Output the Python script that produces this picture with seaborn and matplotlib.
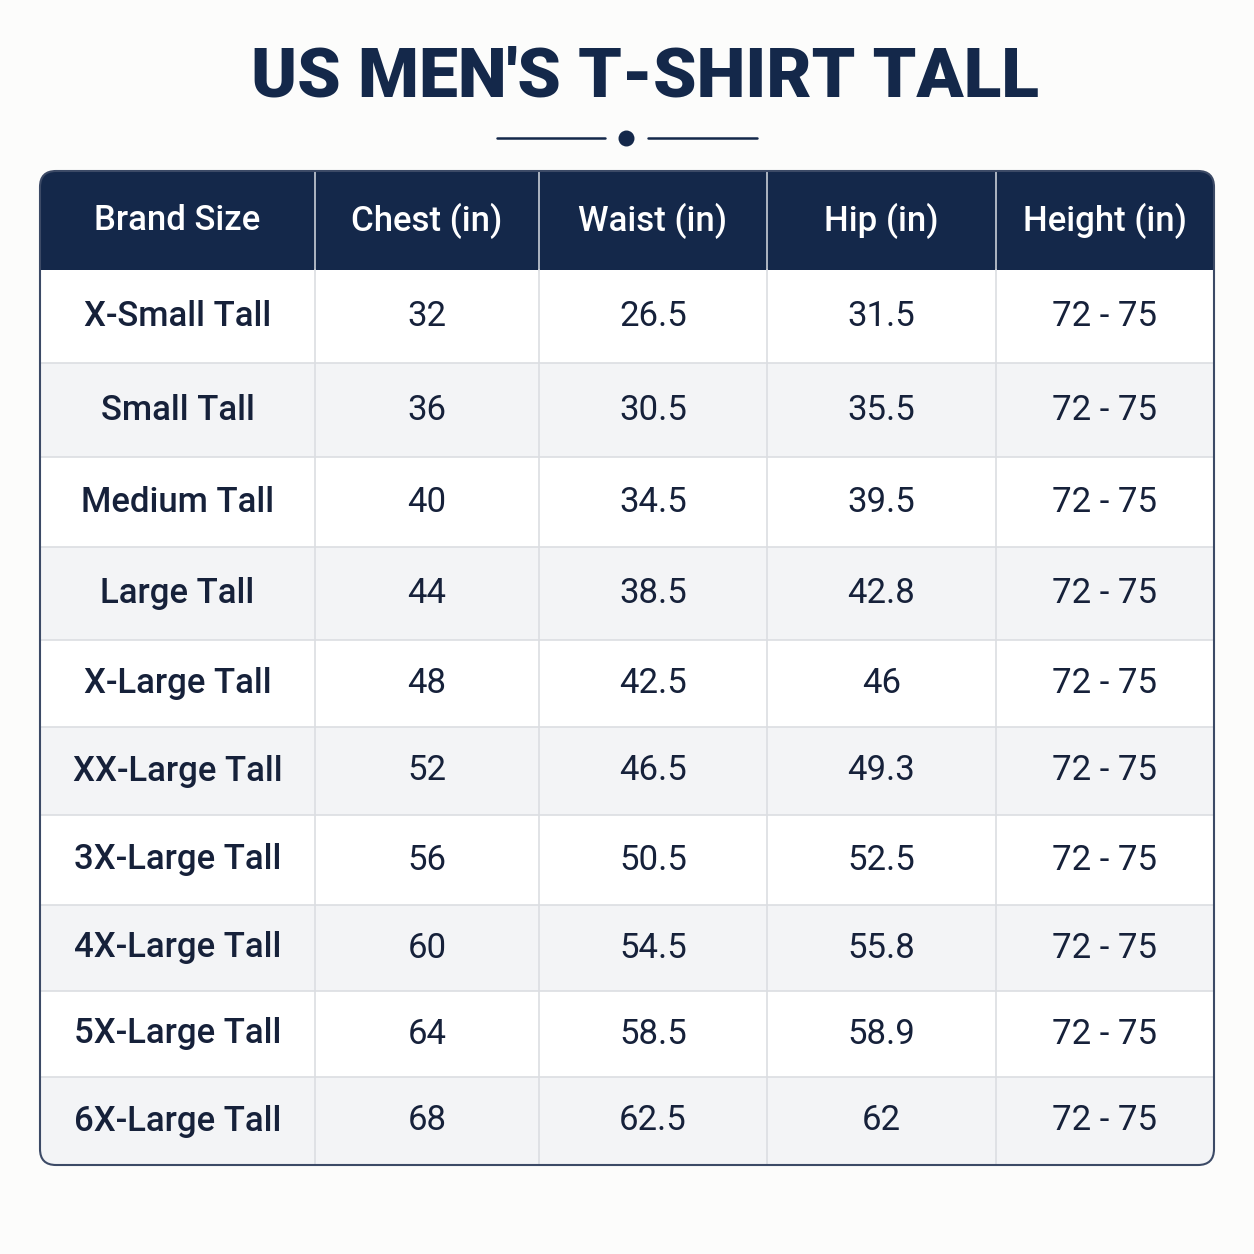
import matplotlib
matplotlib.use("Agg")
import matplotlib.pyplot as plt
from matplotlib.patches import FancyBboxPatch, Rectangle
import seaborn as sns

sns.set_theme(style="white")
plt.rcParams['font.family'] = ['Roboto', 'DejaVu Sans']

title = "US MEN'S T-SHIRT TALL"
columns = ["Brand Size", "Chest (in)", "Waist (in)", "Hip (in)", "Height (in)"]
sizes = ["X-Small Tall", "Small Tall", "Medium Tall", "Large Tall", "X-Large Tall",
         "XX-Large Tall", "3X-Large Tall", "4X-Large Tall", "5X-Large Tall", "6X-Large Tall"]
chest = ["32", "36", "40", "44", "48", "52", "56", "60", "64", "68"]
waist = ["26.5", "30.5", "34.5", "38.5", "42.5", "46.5", "50.5", "54.5", "58.5", "62.5"]
hip = ["31.5", "35.5", "39.5", "42.8", "46", "49.3", "52.5", "55.8", "58.9", "62"]
height = ["72 - 75"] * 10

navy = "#14284a"
col_edges = [40, 315, 539, 767, 996, 1214]
row_edges = [270, 363, 457, 547, 640, 727, 815, 905, 991, 1077, 1165]
top = 171

fig = plt.figure(figsize=(12.54, 12.54), dpi=100, facecolor="#fcfcfb")
ax = fig.add_axes([0, 0, 1, 1])
ax.set_xlim(0, 1254)
ax.set_ylim(1254, 0)
ax.axis("off")

ax.text(645, 78, title, ha="center", va="center", fontsize=50, fontweight="black",
        color=navy)
ax.plot([497, 605], [138, 138], color=navy, lw=1.8)
ax.plot([648, 757], [138, 138], color=navy, lw=1.8)
ax.scatter([626], [138], s=110, color=navy, zorder=3)

clip = FancyBboxPatch((col_edges[0], top), col_edges[-1] - col_edges[0],
                      row_edges[-1] - top, boxstyle="round,pad=0,rounding_size=16",
                      facecolor="none", edgecolor="#3c4a66", lw=1.5, zorder=5)
ax.add_patch(clip)

# header
hdr = Rectangle((col_edges[0], top), col_edges[-1] - col_edges[0], row_edges[0] - top,
                facecolor=navy, edgecolor="none", zorder=1)
ax.add_patch(hdr)
hdr.set_clip_path(clip)
for j, name in enumerate(columns):
    cx = (col_edges[j] + col_edges[j + 1]) / 2
    ax.text(cx, (top + row_edges[0]) / 2, name, ha="center", va="center",
            fontsize=25, fontweight="medium", color="white", zorder=6)

# body
data = [sizes, chest, waist, hip, height]
for i in range(len(sizes)):
    y0, y1 = row_edges[i], row_edges[i + 1]
    r = Rectangle((col_edges[0], y0), col_edges[-1] - col_edges[0], y1 - y0,
                  facecolor="#ffffff" if i % 2 == 0 else "#f3f4f6", edgecolor="none", zorder=1)
    ax.add_patch(r)
    r.set_clip_path(clip)
    if i > 0:
        ax.plot([col_edges[0], col_edges[-1]], [y0, y0], color="#dcdee2", lw=1.2, zorder=2)
    for j, col in enumerate(data):
        cx = (col_edges[j] + col_edges[j + 1]) / 2
        ax.text(cx, (y0 + y1) / 2, col[i], ha="center", va="center", fontsize=25,
                fontweight="medium" if j == 0 else "normal", color="#16213a", zorder=6)

for x in col_edges[1:-1]:
    ax.plot([x, x], [top, row_edges[0]], color="#c8cdd6", lw=1.2, zorder=2)
    ax.plot([x, x], [row_edges[0], row_edges[-1]], color="#dcdee2", lw=1.2, zorder=2)

fig.savefig("out.png", dpi=100, facecolor=fig.get_facecolor())
